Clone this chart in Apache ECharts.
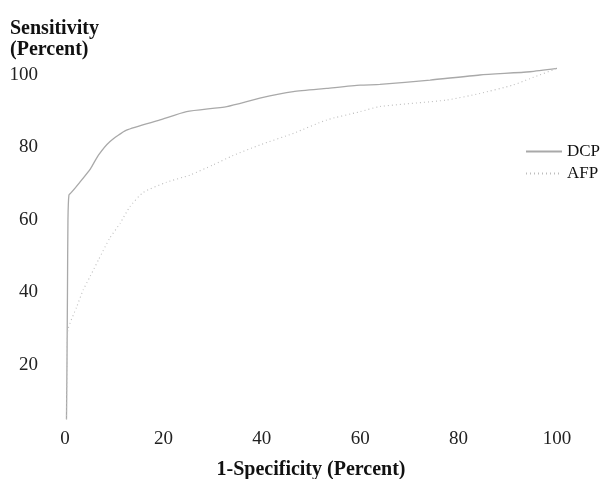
<!DOCTYPE html>
<html>
<head>
<meta charset="utf-8">
<script src="https://cdn.jsdelivr.net/npm/echarts@6/dist/echarts.min.js"></script>
<style>
  html, body { margin: 0; padding: 0; background: #fff; }
  #roc { width: 605px; height: 479px; }
</style>
</head>
<body>
<div id="roc"></div>
<script>
// ROC 曲线数据 (1-Specificity, Sensitivity)
const dcpPoints = [
  [0.3, 5], [0.4, 20], [0.5, 40], [0.6, 60], [0.8, 66.9], [1.3, 67.6], [3.0, 70.4],
  [5.2, 74.2], [6.8, 77.9], [9.1, 81.6], [12.5, 84.8], [19.3, 87.6], [24.7, 89.9],
  [32.9, 91.3], [39.6, 93.6], [46.4, 95.4], [53.2, 96.3], [60.0, 97.2], [64.0, 97.4],
  [74.2, 98.6], [84.3, 100], [94.5, 100.9], [100, 101.8]
]
const afpPoints = [
  [0.3, 5], [0.4, 20], [0.6, 29.7], [2.4, 36.1], [3.7, 40.7], [5.1, 44.4], [6.8, 49.0],
  [9.1, 55.0], [11.2, 59.1], [13.2, 63.7], [15.9, 67.6], [20.6, 70.4], [25.4, 72.4],
  [30.1, 75.2], [34.0, 77.7], [39.6, 80.7], [46.4, 83.9], [53.2, 87.6], [60.0, 89.9],
  [64.0, 91.3], [77.6, 93.1], [84.3, 94.9], [91.0, 97.2], [94.5, 99.0], [100, 101.8]
]
const seriesNames = ['DCP', 'AFP']
const xTicks = [0, 20, 40, 60, 80, 100]

const serif = 'Liberation Serif'
const chart = echarts.init(document.getElementById('roc'))
chart.setOption({
  animation: false,
  backgroundColor: '#fff',
  textStyle: { fontFamily: serif },
  title: {
    text: 'Sensitivity\n(Percent)',
    left: 5,
    top: 13,
    textStyle: { fontFamily: serif, fontSize: 20, fontWeight: 'bold', color: '#111', lineHeight: 21 }
  },
  legend: {
    orient: 'vertical',
    left: 520,
    top: 138,
    itemWidth: 36,
    itemHeight: 10,
    itemGap: 5,
    data: seriesNames,
    itemStyle: { opacity: 0 },
    textStyle: { fontFamily: serif, fontSize: 17, color: '#111' }
  },
  grid: {
    left: 65, right: 48, top: 75, bottom: 41.5,
    containLabel: false,
    outerBoundsMode: 'none'
  },
  xAxis: {
    type: 'value',
    min: 0,
    max: 100,
    interval: 20,
    name: '1-Specificity (Percent)',
    nameLocation: 'middle',
    nameGap: 22,
    nameTextStyle: { fontFamily: serif, fontSize: 20, fontWeight: 'bold', color: '#111', verticalAlign: 'top' },
    axisLine: { show: false },
    axisTick: { show: false },
    splitLine: { show: false },
    axisLabel: {
      margin: -8,
      fontFamily: serif,
      fontSize: 19,
      color: '#222',
      formatter: v => (xTicks.indexOf(v) >= 0 ? String(v) : '')
    }
  },
  yAxis: {
    type: 'value',
    min: 0,
    max: 100,
    interval: 20,
    axisLine: { show: false },
    axisTick: { show: false },
    splitLine: { show: false },
    axisLabel: {
      margin: 27,
      fontFamily: serif,
      fontSize: 19,
      color: '#222',
      showMinLabel: false
    }
  },
  series: [
    {
      name: 'DCP',
      type: 'line',
      data: dcpPoints,
      symbol: 'none',
      smooth: 0.2,
      clip: false,
      lineStyle: { color: '#a9a9a9', width: 1.3, type: 'solid' },
      itemStyle: { color: '#a9a9a9' }
    },
    {
      name: 'AFP',
      type: 'line',
      data: afpPoints,
      symbol: 'none',
      smooth: 0.2,
      clip: false,
      lineStyle: { color: '#bdbdbd', width: 1.1, type: [1, 3] },
      itemStyle: { color: '#bdbdbd' }
    }
  ]
})
</script>
</body>
</html>
